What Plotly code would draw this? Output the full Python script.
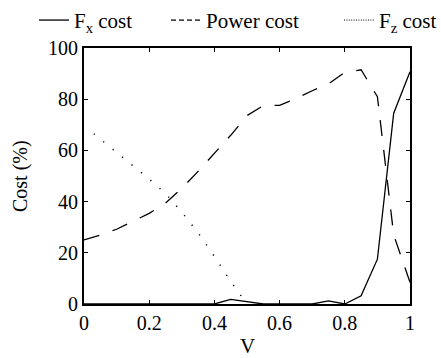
import plotly.graph_objects as go

# Normalised speed V
v = [0.0, 0.05, 0.1, 0.15, 0.2, 0.25, 0.3, 0.35, 0.4, 0.45, 0.5,
     0.55, 0.6, 0.65, 0.7, 0.75, 0.8, 0.85, 0.9, 0.95, 1.0]

# Cost shares (%)
fx_cost = [0, 0, 0, 0, 0, 0, 0, 0, 0, 1.8, 1.0,
           0, 0, 0, 0, 1.2, 0, 3.2, 17.5, 74.5, 90.7]
power_cost = [25.0, 26.9, 29.2, 32.2, 35.4, 39.4, 45.2, 51.8, 58.9, 65.9, 73.6,
              77.5, 77.6, 80.2, 83.3, 86.0, 90.5, 91.5, 81.0, 27.0, 8.5]

v_fz = [0.03, 0.05, 0.1, 0.15, 0.2, 0.25, 0.3, 0.35, 0.4, 0.45, 0.5]
fz_cost = [66.5, 64.4, 59.3, 54.2, 48.8, 43.2, 35.9, 27.8, 18.6, 8.8, 0.0]

FONT = "Liberation Serif"
BLACK = "#000000"

fig = go.Figure()

# Data curves
fig.add_trace(go.Scatter(x=v, y=fx_cost, mode="lines", name="F<sub>x</sub> cost",
                         line=dict(color=BLACK, width=1.3), legend="legend"))
fig.add_trace(go.Scatter(x=v, y=power_cost, mode="lines", showlegend=False,
                         line=dict(color=BLACK, width=1.3, dash="16px,14px")))
fig.add_trace(go.Scatter(x=v_fz, y=fz_cost, mode="lines", showlegend=False,
                         line=dict(color=BLACK, width=1.5, dash="1.2px,11px")))

# Legend samples with the finer print-style dash patterns
fig.add_trace(go.Scatter(x=[None], y=[None], mode="lines", name="Power cost",
                         line=dict(color=BLACK, width=1.2, dash="5px,3px"),
                         legend="legend2"))
fig.add_trace(go.Scatter(x=[None], y=[None], mode="lines", name="F<sub>z</sub> cost",
                         line=dict(color=BLACK, width=1.0, dash="1px,1.4px"),
                         legend="legend3"))

legend_common = dict(xref="container", yref="container", yanchor="middle",
                     xanchor="left", y=0.943, font=dict(family=FONT, size=21, color=BLACK),
                     bgcolor="rgba(0,0,0,0)", borderwidth=0, itemwidth=30)

axis_common = dict(showline=True, linecolor=BLACK, linewidth=1.8, mirror="ticks",
                   ticks="inside", ticklen=4, tickwidth=1.2, tickcolor=BLACK,
                   showgrid=False, zeroline=False,
                   tickfont=dict(family=FONT, size=20, color=BLACK))

fig.update_layout(
    width=441, height=358,
    margin=dict(l=84, r=31, t=48, b=54, autoexpand=False),
    paper_bgcolor="white", plot_bgcolor="white",
    font=dict(family=FONT, size=20, color=BLACK),
    legend=dict(x=34 / 441, **legend_common),
    legend2=dict(x=166 / 441, **legend_common),
    legend3=dict(x=339 / 441, **legend_common),
    xaxis=dict(range=[0, 1], tickvals=[0, 0.2, 0.4, 0.6, 0.8, 1],
               ticktext=["0", "0.2", "0.4", "0.6", "0.8", "1"],
               **axis_common),
    yaxis=dict(range=[0, 100], tickvals=[0, 20, 40, 60, 80, 100],
               **axis_common),
    annotations=[
        dict(text="V", xref="paper", yref="paper", x=0.5, y=0, xanchor="center",
             yanchor="middle", yshift=-42, showarrow=False,
             font=dict(family=FONT, size=21, color=BLACK)),
        dict(text="Cost (%)", xref="paper", yref="paper", x=0, y=0.5, xanchor="center",
             yanchor="middle", xshift=-64, textangle=-90, showarrow=False,
             font=dict(family=FONT, size=20, color=BLACK)),
    ],
)

fig.write_html("out.html")
